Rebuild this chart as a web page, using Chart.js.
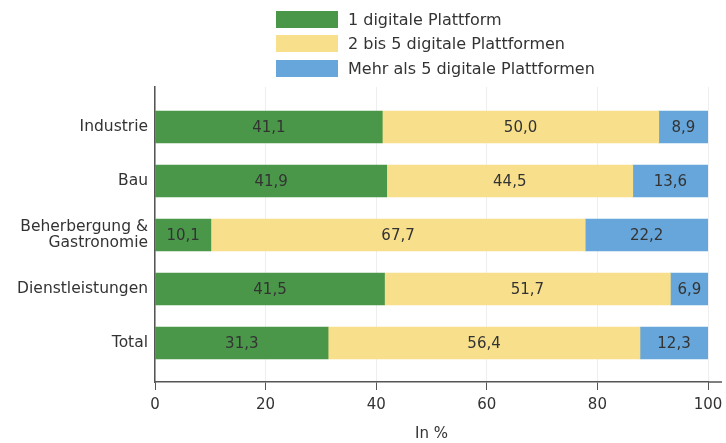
<!DOCTYPE html>
<html>
<head>
<meta charset="utf-8">
<script src="https://cdn.jsdelivr.net/npm/chart.js@4.4.1/dist/chart.umd.min.js"></script>
<style>
  html, body { margin: 0; padding: 0; background: #fff; }
  #wrap { position: relative; width: 726px; height: 443px; }
  #legend { position: absolute; left: 276px; top: 7px; font-family: "DejaVu Sans", sans-serif; font-size: 16px; color: #333; }
  #legend .item { display: flex; align-items: center; height: 24.5px; }
  #legend .box { width: 62px; height: 17px; margin-right: 10px; }
</style>
</head>
<body>
<div id="wrap">
  <canvas id="grafico" width="726" height="443"></canvas>
  <div id="legend"></div>
</div>
<script>
// Daten
const kategorien = ['Industrie', 'Bau', ['Beherbergung &', 'Gastronomie'], 'Dienstleistungen', 'Total'];
const serienNamen = ['1 digitale Plattform', '2 bis 5 digitale Plattformen', 'Mehr als 5 digitale Plattformen'];
const eine = [41.1, 41.9, 10.1, 41.5, 31.3];
const zweiBisFuenf = [50.0, 44.5, 67.7, 51.7, 56.4];
const mehrAlsFuenf = [8.9, 13.6, 22.2, 6.9, 12.3];
const xTicks = [0, 20, 40, 60, 80, 100];
const farben = ['#4b974a', '#f7df8b', '#66a6da'];

const schrift = '"DejaVu Sans", sans-serif';
const textFarbe = '#333333';
const zahl = v => v.toLocaleString('de-DE', { minimumFractionDigits: 1, maximumFractionDigits: 1 });

// Legende als HTML
const legend = document.getElementById('legend');
serienNamen.forEach((name, i) => {
  const item = document.createElement('div');
  item.className = 'item';
  const box = document.createElement('span');
  box.className = 'box';
  box.style.background = farben[i];
  item.appendChild(box);
  item.appendChild(document.createTextNode(name));
  legend.appendChild(item);
});

// Werte in die Balken schreiben
const balkenWerte = {
  id: 'balkenWerte',
  afterDatasetsDraw(chart) {
    const ctx = chart.ctx;
    ctx.save();
    ctx.font = '15px ' + schrift;
    ctx.fillStyle = textFarbe;
    ctx.textAlign = 'center';
    ctx.textBaseline = 'middle';
    chart.data.datasets.forEach((ds, i) => {
      chart.getDatasetMeta(i).data.forEach((bar, j) => {
        ctx.fillText(zahl(ds.data[j]), (bar.x + bar.base) / 2, bar.y + 1);
      });
    });
    ctx.restore();
  }
};

// Abstand zwischen Balken und Achsen oben/unten
const achsenAbstand = {
  id: 'achsenAbstand',
  afterLayout(chart) {
    const y = chart.scales.y;
    y._startPixel += 13;
    y._endPixel -= 12;
    y._length = y._endPixel - y._startPixel;
  },
  afterDraw(chart) {
    const { ctx, chartArea } = chart;
    ctx.save();
    ctx.strokeStyle = '#555';
    ctx.lineWidth = 1.5;
    ctx.beginPath();
    ctx.moveTo(chartArea.right, chartArea.bottom);
    ctx.lineTo(chartArea.right + 14, chartArea.bottom);
    ctx.stroke();
    ctx.restore();
  }
};

const ctx = document.getElementById('grafico').getContext('2d');
const grafico = new Chart(ctx, {
  type: 'bar',
  data: {
    labels: kategorien,
    datasets: serienNamen.map((name, i) => ({
      label: name,
      data: [eine, zweiBisFuenf, mehrAlsFuenf][i],
      backgroundColor: farben[i],
      borderWidth: 0,
      barThickness: 32
    }))
  },
  options: {
    indexAxis: 'y',
    responsive: false,
    animation: false,
    layout: { padding: { top: 87, right: 18, bottom: 0, left: 0 } },
    plugins: {
      legend: { display: false },
      tooltip: { enabled: false }
    },
    scales: {
      x: {
        stacked: true,
        min: 0,
        max: 100,
        afterBuildTicks: s => { s.ticks = xTicks.map(v => ({ value: v })); },
        afterFit: s => { s.height = 61; s.paddingLeft = 0; s.paddingRight = 0; },
        grid: { color: '#eeeeee', tickColor: '#555', tickLength: 8, lineWidth: 1 },
        border: { color: '#555', width: 1.5 },
        ticks: { color: textFarbe, font: { family: schrift, size: 15 }, padding: 6 },
        title: { display: true, text: 'In %', color: textFarbe, font: { family: schrift, size: 15 }, padding: { top: 0, bottom: 0 } }
      },
      y: {
        stacked: true,
        afterFit: s => { s.width = 155; },
        grid: { display: false, drawTicks: false },
        border: { color: '#555', width: 1.5 },
        ticks: { color: textFarbe, font: { family: schrift, size: 15.5, lineHeight: 1.0 }, padding: 7 }
      }
    }
  },
  plugins: [balkenWerte, achsenAbstand]
});
</script>
</body>
</html>
